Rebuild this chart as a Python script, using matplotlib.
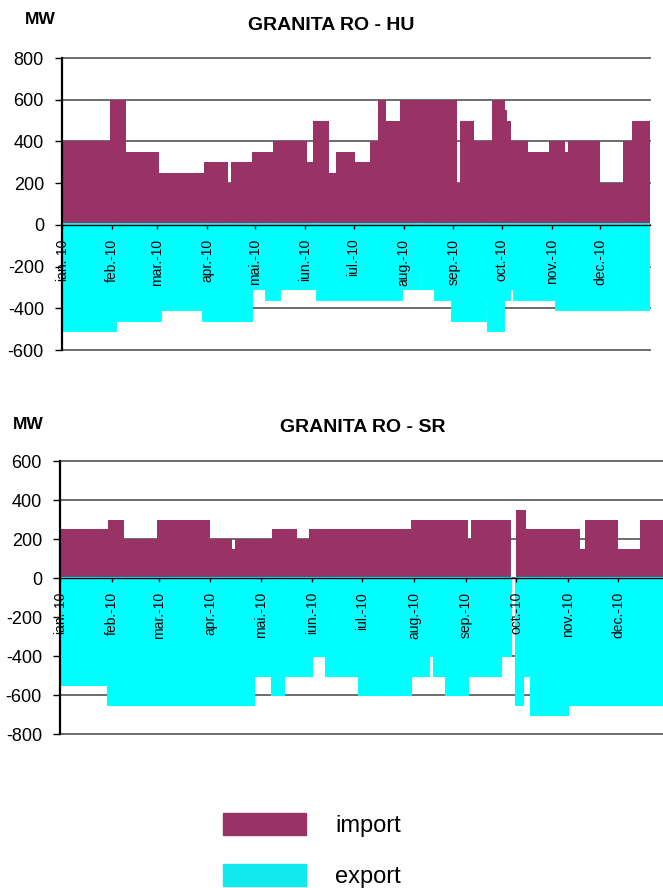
import numpy as np
import pandas as pd
import matplotlib
matplotlib.use('Agg')
import matplotlib.pyplot as plt
import matplotlib.dates as mdates
from matplotlib.patches import Patch

plt.rcParams['font.family'] = ['Liberation Sans', 'DejaVu Sans']
plt.rcParams['axes.unicode_minus'] = False

# etichete luni (axa x)
luni = ['ian.-10', 'feb.-10', 'mar.-10', 'apr.-10', 'mai.-10', 'iun.-10',
        'iul.-10', 'aug.-10', 'sep.-10', 'oct.-10', 'nov.-10', 'dec.-10']
sfarsit = '2011-01-01'

# GRANITA RO - HU : import (inceput interval, MW)
hu_imp_start = ['2010-01-01', '2010-01-31', '2010-02-10', '2010-03-02', '2010-03-30',
                '2010-04-14', '2010-04-16', '2010-04-29', '2010-05-12', '2010-06-02',
                '2010-06-06', '2010-06-16', '2010-06-20', '2010-07-02', '2010-07-11',
                '2010-07-16', '2010-07-21', '2010-07-30', '2010-09-03', '2010-09-05',
                '2010-09-14', '2010-09-25', '2010-10-03', '2010-10-04', '2010-10-07',
                '2010-10-17', '2010-10-30', '2010-11-09', '2010-11-11', '2010-12-01',
                '2010-12-15', '2010-12-21']
hu_imp_val = [400, 600, 350, 250, 300,
              200, 300, 350, 400, 300,
              500, 250, 350, 300, 400,
              600, 500, 600, 200, 500,
              400, 600, 550, 500, 400,
              350, 400, 350, 400, 200,
              400, 500]

# GRANITA RO - HU : export
hu_exp_start = ['2010-01-01', '2010-02-02', '2010-03-02', '2010-03-30', '2010-04-14',
                '2010-04-16', '2010-04-28', '2010-05-08', '2010-05-15', '2010-06-06',
                '2010-06-09', '2010-07-30', '2010-08-10', '2010-08-13', '2010-08-21',
                '2010-09-01', '2010-09-20', '2010-09-23', '2010-10-01', '2010-10-05',
                '2010-10-09', '2010-11-04', '2010-11-09', '2010-11-11', '2010-12-18',
                '2010-12-21']
hu_exp_val = [-500, -450, -400, -450, -300,
              -450, -300, -350, -300, -250,
              -350, -300, -200, -300, -350,
              -450, -350, -500, -350, -300,
              -350, -400, -300, -400, -350,
              -400]

# GRANITA RO - SR : import
sr_imp_start = ['2010-01-01', '2010-01-30', '2010-02-08', '2010-02-28', '2010-04-01',
                '2010-04-14', '2010-04-16', '2010-05-08', '2010-05-23', '2010-05-30',
                '2010-07-30', '2010-09-02', '2010-09-04', '2010-09-28', '2010-10-01',
                '2010-10-07', '2010-11-08', '2010-11-11', '2010-12-01', '2010-12-14']
sr_imp_val = [250, 300, 200, 300, 200,
              150, 200, 250, 200, 250,
              300, 200, 300, np.nan, 350,
              250, 150, 300, 150, 300]

# GRANITA RO - SR : export
sr_exp_start = ['2010-01-01', '2010-01-30', '2010-04-27', '2010-05-08', '2010-05-15',
                '2010-06-01', '2010-06-09', '2010-06-29', '2010-07-30', '2010-08-10',
                '2010-08-13', '2010-08-20', '2010-09-02', '2010-09-22', '2010-09-28',
                '2010-10-01', '2010-10-05', '2010-10-10', '2010-11-01']
sr_exp_val = [-550, -650, -500, -600, -500,
              -400, -500, -600, -500, -400,
              -500, -600, -500, -400, np.nan,
              -650, -500, -700, -650]

c_imp = '#993366'
c_exp = '#00FFFF'


def bare(ax, start, val, color, lw):
    d = mdates.date2num(pd.to_datetime(start + [sfarsit]))
    x = d[:-1]
    w = np.diff(d)
    v = np.array(val, dtype=float)
    ok = ~np.isnan(v)
    ax.bar(x[ok], v[ok], width=w[ok], align='edge', color=color,
           edgecolor=color, linewidth=lw, zorder=1.2)


def axe(ax, ymin, ymax):
    ax.set_xlim(mdates.date2num(pd.Timestamp('2010-01-01')), mdates.date2num(pd.Timestamp(sfarsit)))
    ax.set_ylim(ymin, ymax)
    yt = list(range(ymin, ymax + 1, 200))
    ax.set_yticks(yt)
    for y in yt:
        ax.axhline(y, color='#606060', lw=1.3, zorder=0.5, clip_on=False)
    ax.spines['top'].set_visible(False)
    ax.spines['right'].set_visible(False)
    ax.spines['bottom'].set_position(('data', 0))
    ax.spines['bottom'].set_linewidth(1.0)
    ax.spines['left'].set_linewidth(1.6)
    xt = mdates.date2num(pd.date_range('2010-01-01', periods=12, freq='MS'))
    ax.set_xticks(xt)
    ax.set_xticklabels(luni, rotation=90, fontsize=10)
    ax.tick_params(axis='x', length=3, width=1, pad=7)
    ax.tick_params(axis='y', length=5, width=1, pad=8, labelsize=13)


fig = plt.figure(figsize=(6.63, 8.88), dpi=100)

ax1 = fig.add_axes([62/663, 1-350/888, 588/663, 292/888])
bare(ax1, hu_imp_start, hu_imp_val, c_imp, 0)
bare(ax1, hu_exp_start, hu_exp_val, c_exp, 3.5)
axe(ax1, -600, 800)

ax2 = fig.add_axes([60/663, 1-734/888, 610/663, 273/888])
bare(ax2, sr_imp_start, sr_imp_val, c_imp, 0)
bare(ax2, sr_exp_start, sr_exp_val, c_exp, 1.5)
axe(ax2, -800, 600)

fig.text(331/663, 1-25/888, 'GRANITA RO - HU', ha='center', va='center',
         fontsize=14, fontweight='bold')
fig.text(25/663, 1-19/888, 'MW', ha='left', va='center', fontsize=12.5, fontweight='bold')
fig.text(363/663, 1-428/888, 'GRANITA RO - SR', ha='center', va='center',
         fontsize=14, fontweight='bold')
fig.text(13/663, 1-424/888, 'MW', ha='left', va='center', fontsize=12.5, fontweight='bold')

fig.legend(handles=[Patch(color=c_imp), Patch(color='#12E9EE')], labels=['import', 'export'],
           loc='upper left', bbox_to_anchor=(223/663, 1-813/888), frameon=False,
           fontsize=17, handlelength=3.5, handleheight=1.06, handletextpad=1.25,
           labelspacing=1.15, borderpad=0, borderaxespad=0)

fig.savefig('out.png', dpi=100)
